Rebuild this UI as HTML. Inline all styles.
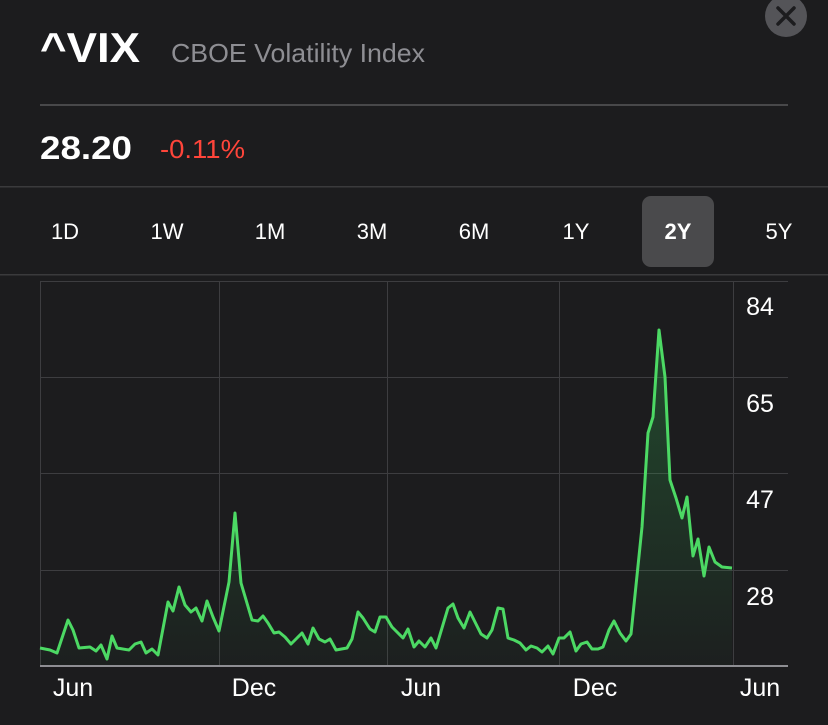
<!DOCTYPE html>
<html><head><meta charset="utf-8"><style>
html,body{margin:0;padding:0;background:#1c1c1e;}
svg{display:block;font-family:"Liberation Sans",sans-serif;}
</style></head><body>
<svg width="828" height="725" viewBox="0 0 828 725" xmlns="http://www.w3.org/2000/svg">
<defs>
<linearGradient id="g" x1="0" y1="0" x2="0" y2="1">
<stop offset="0" stop-color="#34c759" stop-opacity="0.28"/>
<stop offset="1" stop-color="#34c759" stop-opacity="0.02"/>
</linearGradient>
</defs>
<rect width="828" height="725" fill="#1c1c1e"/>
<circle cx="786" cy="16" r="21" fill="#545458"/>
<path d="M778 8 L794 24 M794 8 L778 24" stroke="#1c1c1e" stroke-width="3.5" stroke-linecap="round"/>
<text x="40" y="62" fill="#fff" font-size="42" font-weight="bold" textLength="100" lengthAdjust="spacingAndGlyphs">^VIX</text>
<text x="171" y="62" fill="#8e8e93" font-size="26" textLength="254" lengthAdjust="spacingAndGlyphs">CBOE Volatility Index</text>
<rect x="40" y="104" width="748" height="2" fill="#48484a"/>
<text x="40" y="159" fill="#fff" font-size="32" font-weight="bold" textLength="92" lengthAdjust="spacingAndGlyphs">28.20</text>
<text x="160" y="158" fill="#ff453a" font-size="26" textLength="85" lengthAdjust="spacingAndGlyphs">-0.11%</text>
<rect x="0" y="186" width="828" height="1.5" fill="#3a3a3c"/>
<rect x="642" y="196" width="72" height="71" rx="9" fill="#4a4a4c"/>
<g fill="#fff" font-size="22" text-anchor="middle">
<text x="65" y="239">1D</text><text x="167" y="239">1W</text><text x="270" y="239">1M</text>
<text x="372" y="239">3M</text><text x="474" y="239">6M</text><text x="576" y="239">1Y</text>
<text x="678" y="239" font-weight="bold">2Y</text><text x="779" y="239">5Y</text>
</g>
<rect x="0" y="274" width="828" height="1.5" fill="#3a3a3c"/>
<g stroke="#3d3d40" stroke-width="1" fill="none">
<path d="M40 281.5 H788 M40 377.5 H788 M40 473.5 H788 M40 570.5 H788"/>
<path d="M40.5 281 V666 M219.5 281 V666 M387.5 281 V666 M559.5 281 V666 M733.5 281 V666"/>
</g>
<rect x="40" y="665" width="748" height="2" fill="#8e8e93"/>
<path fill="url(#g)" d="M40,648 L50,650 L57,653 L68,620 L73,630 L79,648 L90,647 L96,651 L101,645 L107,659 L112,636 L117,648 L129,650 L135,644 L141,642 L146,653 L152,649 L158,655 L168,602 L173,611 L179,587 L185,605 L191,612 L196,608 L202,621 L207,601 L213,617 L219,631 L229,582 L235,513 L241,583 L252,620 L258,621 L263,616 L268,623 L274,633 L279,632 L285,637 L291,644 L297,638 L302,633 L308,644 L313,628 L319,639 L325,642 L330,639 L336,650 L347,648 L352,639 L358,612 L363,618 L370,629 L375,632 L380,617 L386,617 L392,627 L397,632 L403,638 L408,629 L414,647 L419,641 L425,647 L431,638 L436,648 L448,608 L453,604 L458,618 L464,628 L470,612 L476,624 L481,634 L487,638 L492,630 L498,608 L503,609 L508,638 L514,640 L520,643 L526,650 L531,646 L537,648 L542,652 L548,646 L553,654 L559,638 L564,638 L570,632 L576,651 L581,644 L587,642 L592,649 L598,649 L603,647 L609,630 L614,621 L620,633 L626,641 L631,634 L642,527 L648,433 L653,417 L659,330 L665,377 L670,480 L676,498 L682,518 L687,497 L693,556 L698,539 L704,576 L709,547 L715,562 L722,567 L732,568 L732,665 L40,665 Z"/>
<path fill="none" stroke="#4cd964" stroke-width="3" stroke-linejoin="round" d="M40,648 L50,650 L57,653 L68,620 L73,630 L79,648 L90,647 L96,651 L101,645 L107,659 L112,636 L117,648 L129,650 L135,644 L141,642 L146,653 L152,649 L158,655 L168,602 L173,611 L179,587 L185,605 L191,612 L196,608 L202,621 L207,601 L213,617 L219,631 L229,582 L235,513 L241,583 L252,620 L258,621 L263,616 L268,623 L274,633 L279,632 L285,637 L291,644 L297,638 L302,633 L308,644 L313,628 L319,639 L325,642 L330,639 L336,650 L347,648 L352,639 L358,612 L363,618 L370,629 L375,632 L380,617 L386,617 L392,627 L397,632 L403,638 L408,629 L414,647 L419,641 L425,647 L431,638 L436,648 L448,608 L453,604 L458,618 L464,628 L470,612 L476,624 L481,634 L487,638 L492,630 L498,608 L503,609 L508,638 L514,640 L520,643 L526,650 L531,646 L537,648 L542,652 L548,646 L553,654 L559,638 L564,638 L570,632 L576,651 L581,644 L587,642 L592,649 L598,649 L603,647 L609,630 L614,621 L620,633 L626,641 L631,634 L642,527 L648,433 L653,417 L659,330 L665,377 L670,480 L676,498 L682,518 L687,497 L693,556 L698,539 L704,576 L709,547 L715,562 L722,567 L732,568"/>
<g fill="#fff" font-size="25" text-anchor="middle">
<text x="760" y="315">84</text><text x="760" y="412">65</text>
<text x="760" y="508">47</text><text x="760" y="605">28</text>
<text x="73" y="696">Jun</text><text x="254" y="696">Dec</text>
<text x="421" y="696">Jun</text><text x="595" y="696">Dec</text>
<text x="760" y="696">Jun</text>
</g>
</svg>
</body></html>
